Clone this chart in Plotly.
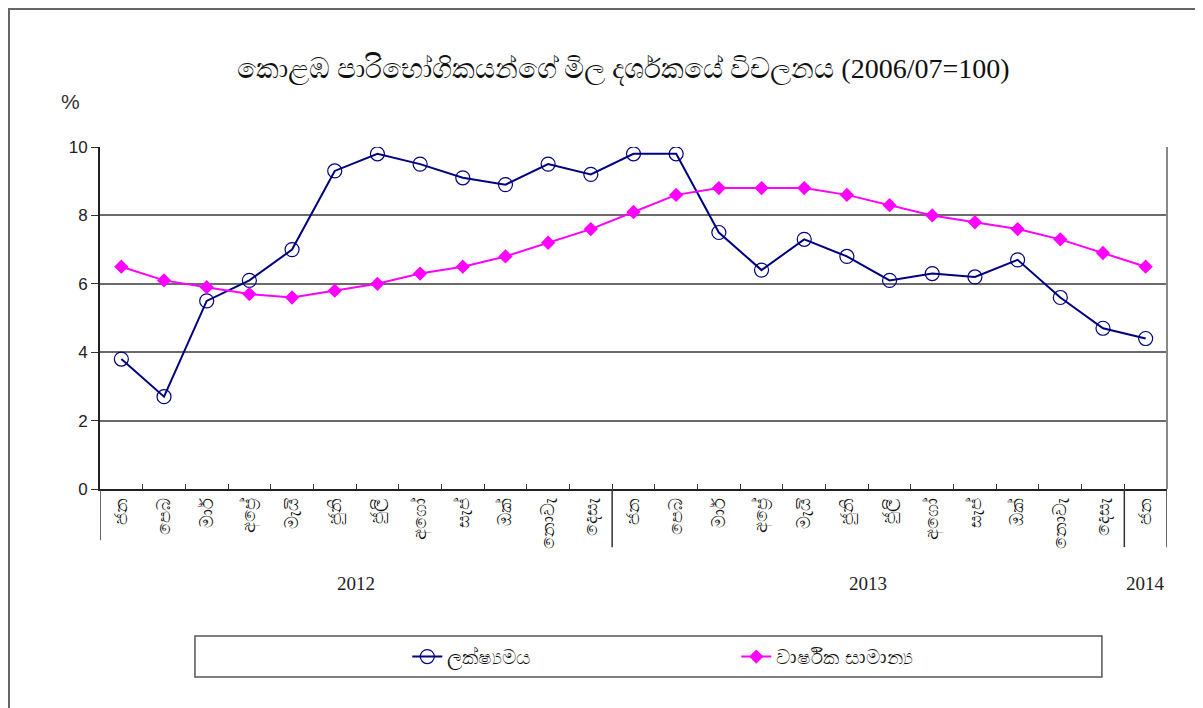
import plotly.graph_objects as go

title_text = "කොළඹ පාරිභෝගිකයන්ගේ මිල දර්ශකයේ විචලනය (2006/07=100)"
months = ["ජන", "පෙබ", "මාර්", "අප්‍රේ", "මැයි", "ජුනි", "ජුලි", "අගෝ", "සැප්", "ඔක්", "නොවැ", "දෙසැ",
          "ජන", "පෙබ", "මාර්", "අප්‍රේ", "මැයි", "ජුනි", "ජුලි", "අගෝ", "සැප්", "ඔක්", "නොවැ", "දෙසැ",
          "ජන"]
years = ["2012", "2013", "2014"]
year_counts = [12, 12, 1]
point_to_point = [3.8, 2.7, 5.5, 6.1, 7.0, 9.3, 9.8, 9.5, 9.1, 8.9, 9.5, 9.2,
                  9.8, 9.8, 7.5, 6.4, 7.3, 6.8, 6.1, 6.3, 6.2, 6.7, 5.6, 4.7,
                  4.4]
annual_avg = [6.5, 6.1, 5.9, 5.7, 5.6, 5.8, 6.0, 6.3, 6.5, 6.8, 7.2, 7.6,
              8.1, 8.6, 8.8, 8.8, 8.8, 8.6, 8.3, 8.0, 7.8, 7.6, 7.3, 6.9,
              6.5]
series_names = ["ලක්ෂ්‍යමය", "වාර්ෂික සාමාන්‍ය"]
y_ticks = [0, 2, 4, 6, 8, 10]

x = list(range(len(months)))
SANS = "Liberation Sans, Arial, sans-serif"
SERIF = "Liberation Serif, Times New Roman, serif"

fig = go.Figure()
fig.add_trace(go.Scatter(
    x=x, y=point_to_point, name=series_names[0], mode="lines+markers",
    line=dict(color="#000080", width=2),
    marker=dict(symbol="circle-open", size=14, color="#000080", line=dict(width=1.2)),
))
fig.add_trace(go.Scatter(
    x=x, y=annual_avg, name=series_names[1], mode="lines+markers",
    line=dict(color="#FF00FF", width=2),
    marker=dict(symbol="diamond", size=11, color="#FF00FF"),
))
# invisible trace to carry the between-category tick marks
fig.add_trace(go.Scatter(x=[-0.5, len(months) - 0.5], y=[0, 0], xaxis="x2",
                         mode="lines", line=dict(width=0), showlegend=False, hoverinfo="skip"))

shapes = []
# category group dividers below the axis
bounds = [-0.5]
for c in year_counts:
    bounds.append(bounds[-1] + c)
for i, b in enumerate(bounds):
    shapes.append(dict(type="line", xref="x", yref="paper", x0=b, x1=b, y0=0,
                       y1=(-0.15 if i == 0 else -0.17),
                       line=dict(color="#333333", width=1.5)))
# right border of plot
shapes.append(dict(type="line", xref="paper", yref="paper", x0=1, x1=1, y0=0, y1=1,
                   line=dict(color="#888888", width=2)))
# legend box
shapes.append(dict(type="rect", xref="paper", yref="paper", x0=0.089, x1=0.939, y0=-0.55, y1=-0.43,
                   line=dict(color="#555555", width=1.5), fillcolor="rgba(0,0,0,0)"))
# outer frame (bottom edge runs off the image)
shapes.append(dict(type="rect", xref="paper", yref="paper", x0=-0.0853, x1=1.029, y0=-0.68, y1=1.4035,
                   line=dict(color="#666666", width=2), fillcolor="rgba(0,0,0,0)"))

annotations = []
start = -0.5
for yr, c in zip(years, year_counts):
    annotations.append(dict(text=yr, x=start + c / 2, xref="x", y=-0.275, yref="paper",
                            xanchor="center", yanchor="middle",
                            showarrow=False, font=dict(family=SERIF, size=19, color="#222")))
    start += c
annotations.append(dict(text="%", x=-0.028, xref="paper", y=1.132, yref="paper", showarrow=False,
                        xanchor="center", yanchor="middle",
                        font=dict(family=SANS, size=21, color="#333")))

fig.update_layout(
    width=1195, height=700,
    margin=dict(l=92, r=36, t=139, b=219),
    paper_bgcolor="white", plot_bgcolor="white",
    title=dict(text=title_text, x=0.515, xanchor="center", y=0.914, yanchor="middle",
               font=dict(family=SERIF, size=28, color="#111")),
    xaxis=dict(range=[-0.5, len(months) - 0.5], tickmode="array", tickvals=x, ticktext=months,
               tickangle=-90, ticks="", showgrid=False, zeroline=False,
               showline=True, linecolor="#222", linewidth=2,
               tickfont=dict(family=SANS, size=18, color="#111")),
    xaxis2=dict(overlaying="x", range=[-0.5, len(months) - 0.5], tickmode="array",
                tickvals=[i + 0.5 for i in x[:-1]], ticks="inside", ticklen=5, tickcolor="#333",
                showticklabels=False, showgrid=False, zeroline=False, side="bottom"),
    yaxis=dict(range=[0, 10], tickmode="array", tickvals=y_ticks, showgrid=True,
               gridcolor="#6a6a6a", gridwidth=2, zeroline=False,
               showline=True, linecolor="#222", linewidth=2, ticks="outside", ticklen=7,
               tickcolor="#333", tickfont=dict(family=SANS, size=17, color="#222")),
    legend=dict(orientation="h", x=0.288, xanchor="left", y=-0.49, yanchor="middle",
                entrywidth=284, entrywidthmode="pixels", bgcolor="rgba(0,0,0,0)",
                font=dict(family=SANS, size=20, color="#111")),
    shapes=shapes, annotations=annotations, showlegend=True,
)

fig.write_html("out.html")
